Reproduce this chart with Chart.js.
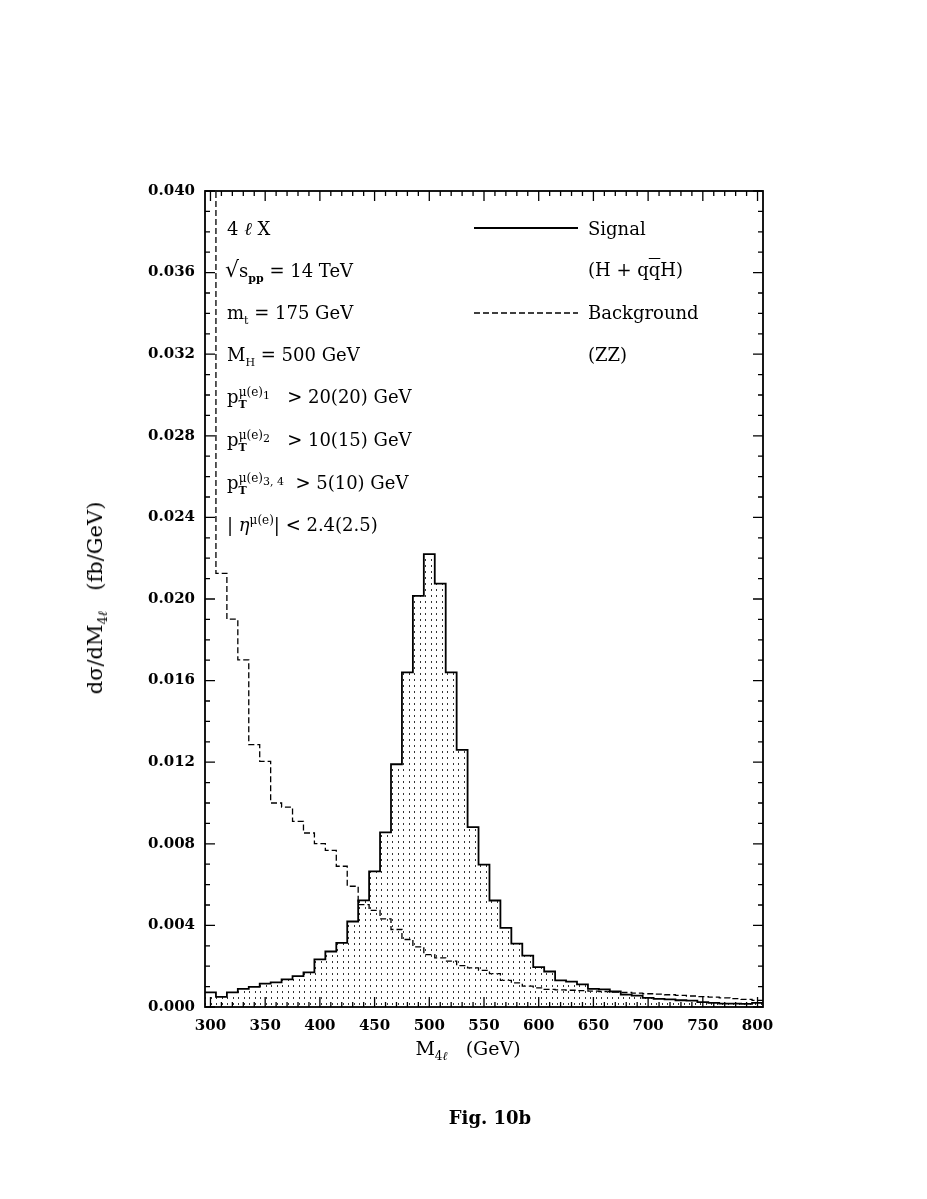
<!DOCTYPE html>
<html>
<head>
<meta charset="utf-8">
<script src="https://cdn.jsdelivr.net/npm/chart.js@4.4.1/dist/chart.umd.min.js"></script>
<style>
  body { margin: 0; background: #fff; }
  #wrap { position: relative; width: 927px; height: 1199px; }
  .t { position: absolute; font-family: "DejaVu Serif", serif; font-size: 18px; line-height: 20px; color: #000; white-space: nowrap; }
  .t sub, .t sup { font-size: 11px; line-height: 0; }
  .b { font-weight: bold; }
  .bar { text-decoration: overline; }
</style>
</head>
<body>
<div id="wrap">
  <canvas id="histChart" width="927" height="1199"></canvas>

  <div class="t" style="left:227px;top:219px">4 <i>ℓ</i> X</div>
  <div class="t" style="left:225px;top:260px"><span style="font-size:22px">√</span>s<sub class="b">pp</sub> = 14 TeV</div>
  <div class="t" style="left:227px;top:303px">m<sub>t</sub> = 175 GeV</div>
  <div class="t" style="left:227px;top:345px">M<sub>H</sub> = 500 GeV</div>
  <div class="t" style="left:227px;top:387px">p<sub class="b">T</sub><sup style="margin-left:-8px;font-size:12px">μ(e)<sub>1</sub></sup> &nbsp; &gt; 20(20) GeV</div>
  <div class="t" style="left:227px;top:430px">p<sub class="b">T</sub><sup style="margin-left:-8px;font-size:12px">μ(e)<sub>2</sub></sup> &nbsp; &gt; 10(15) GeV</div>
  <div class="t" style="left:227px;top:473px">p<sub class="b">T</sub><sup style="margin-left:-8px;font-size:12px">μ(e)<sub>3, 4</sub></sup> &nbsp;&gt; 5(10) GeV</div>
  <div class="t" style="left:227px;top:515px">| <i>η</i><sup style="font-size:12px">μ(e)</sup>| &lt; 2.4(2.5)</div>

  <div class="t" style="left:588px;top:219px">Signal</div>
  <div class="t" style="left:588px;top:260px">(H + q<span class="bar">q</span>H)</div>
  <div class="t" style="left:588px;top:303px">Background</div>
  <div class="t" style="left:588px;top:345px">(ZZ)</div>

  <div class="t" style="left:95px;top:598px;font-size:21px;transform:translate(-50%,-50%) rotate(-90deg)">dσ/dM<sub style="font-size:13px">4<i>ℓ</i></sub>&nbsp;&nbsp; (fb/GeV)</div>
  <div class="t" style="left:468px;top:1048px;font-size:19px;transform:translate(-50%,-50%)">M<sub style="font-size:12px">4<i>ℓ</i></sub>&nbsp;&nbsp; (GeV)</div>
  <div class="t b" style="left:490px;top:1118px;font-size:18px;transform:translate(-50%,-50%)">Fig. 10b</div>
</div>

<script>
// bin centres in GeV (10 GeV bins)
const binCentres = [300, 310, 320, 330, 340, 350, 360, 370, 380, 390,
  400, 410, 420, 430, 440, 450, 460, 470, 480, 490,
  500, 510, 520, 530, 540, 550, 560, 570, 580, 590,
  600, 610, 620, 630, 640, 650, 660, 670, 680, 690,
  700, 710, 720, 730, 740, 750, 760, 770, 780, 790, 800];

// dsigma/dM4l in fb/GeV
const signal = [0.00072, 0.00050, 0.00072, 0.00089, 0.00099, 0.00115, 0.00121, 0.00135, 0.00151, 0.00170,
  0.00233, 0.00272, 0.00314, 0.00419, 0.00523, 0.00665, 0.00856, 0.01190, 0.01640, 0.02015,
  0.02220, 0.02075, 0.01640, 0.01260, 0.00882, 0.00698, 0.00522, 0.00388, 0.00311, 0.00252,
  0.00195, 0.00174, 0.00131, 0.00124, 0.00111, 0.00089, 0.00086, 0.00076, 0.00061, 0.00056,
  0.00045, 0.00040, 0.00037, 0.00033, 0.00031, 0.00024, 0.00020, 0.00017, 0.00017, 0.00015, 0.00020];

const background = [0.05000, 0.02126, 0.01901, 0.01702, 0.01286, 0.01204, 0.01000, 0.00980, 0.00910, 0.00853,
  0.00801, 0.00768, 0.00690, 0.00592, 0.00502, 0.00474, 0.00432, 0.00380, 0.00331, 0.00295,
  0.00257, 0.00241, 0.00225, 0.00203, 0.00192, 0.00180, 0.00164, 0.00131, 0.00118, 0.00102,
  0.00094, 0.00086, 0.00084, 0.00082, 0.00080, 0.00078, 0.00076, 0.00073, 0.00071, 0.00068,
  0.00065, 0.00063, 0.00060, 0.00057, 0.00054, 0.00051, 0.00048, 0.00045, 0.00041, 0.00037, 0.00032];

const xTickLabels = [300, 350, 400, 450, 500, 550, 600, 650, 700, 750, 800];
const yTickLabels = [0, 0.004, 0.008, 0.012, 0.016, 0.020, 0.024, 0.028, 0.032, 0.036, 0.040];

const binWidth = 10;

// step points on bin edges, the last bin closed on its right edge
function toSteps(values) {
  const pts = binCentres.map((c, i) => ({ x: c - binWidth / 2, y: values[i] }));
  const last = binCentres.length - 1;
  pts.push({ x: binCentres[last] + binWidth / 2, y: values[last] });
  return pts;
}

const canvas = document.getElementById("histChart");
const ctx = canvas.getContext("2d");

function dotPattern() {
  const p = document.createElement("canvas");
  p.width = 11;
  p.height = 6;
  const g = p.getContext("2d");
  g.fillStyle = "#333";
  g.fillRect(2, 1, 1, 2);
  g.fillRect(7, 1, 1, 2);
  return ctx.createPattern(p, "repeat");
}

const tickFont = { family: "DejaVu Serif", size: 15, weight: "bold" };

// frame, inward ticks and legend samples
const framePlugin = {
  id: "frame",
  afterDraw(chart) {
    const { ctx, chartArea: a, scales } = chart;
    const xs = scales.x, ys = scales.y;
    ctx.save();
    ctx.strokeStyle = "#000";
    ctx.lineWidth = 1.8;
    ctx.strokeRect(a.left, a.top, a.right - a.left, a.bottom - a.top);

    ctx.lineWidth = 1.3;
    ctx.beginPath();
    for (let v = 300; v <= 800; v += 10) {
      const px = xs.getPixelForValue(v);
      const len = v % 50 === 0 ? 10 : 5;
      ctx.moveTo(px, a.bottom); ctx.lineTo(px, a.bottom - len);
      ctx.moveTo(px, a.top); ctx.lineTo(px, a.top + len);
    }
    for (let k = 0; k <= 40; k++) {
      const py = ys.getPixelForValue(k / 1000);
      const len = k % 4 === 0 ? 10 : 5;
      ctx.moveTo(a.left, py); ctx.lineTo(a.left + len, py);
      ctx.moveTo(a.right, py); ctx.lineTo(a.right - len, py);
    }
    ctx.stroke();

    // legend line samples
    chart.data.datasets.forEach((ds, i) => {
      const y = i === 0 ? 228 : 313;
      ctx.setLineDash(ds.borderDash || []);
      ctx.lineWidth = ds.borderWidth;
      ctx.beginPath();
      ctx.moveTo(474, y);
      ctx.lineTo(578, y);
      ctx.stroke();
    });
    ctx.restore();
  }
};

new Chart(canvas, {
  type: "line",
  data: {
    datasets: [{
      label: "Signal",
      data: toSteps(signal),
      stepped: "before",
      borderColor: "#000",
      borderWidth: 1.8,
      backgroundColor: dotPattern(),
      fill: "origin",
      pointRadius: 0
    }, {
      label: "Background",
      data: toSteps(background),
      stepped: "before",
      borderColor: "#000",
      borderWidth: 1.3,
      borderDash: [6, 3],
      fill: false,
      pointRadius: 0
    }]
  },
  options: {
    responsive: false,
    animation: false,
    devicePixelRatio: 1,
    layout: { padding: { left: 145, right: 164, top: 191, bottom: 152 } },
    plugins: { legend: { display: false }, tooltip: { enabled: false } },
    scales: {
      x: {
        type: "linear",
        min: 295,
        max: 805,
        grid: { display: false, drawTicks: false },
        border: { display: false },
        afterBuildTicks: s => { s.ticks = xTickLabels.map(v => ({ value: v })); },
        afterFit: s => { s.height = 40; },
        ticks: { font: tickFont, color: "#000", padding: 10, maxRotation: 0, autoSkip: false }
      },
      y: {
        type: "linear",
        min: 0,
        max: 0.04,
        grid: { display: false, drawTicks: false },
        border: { display: false },
        afterBuildTicks: s => { s.ticks = yTickLabels.map(v => ({ value: v })); },
        afterFit: s => { s.width = 60; },
        ticks: { font: tickFont, color: "#000", padding: 10, callback: v => v.toFixed(3) }
      }
    }
  },
  plugins: [framePlugin]
});
</script>
</body>
</html>
